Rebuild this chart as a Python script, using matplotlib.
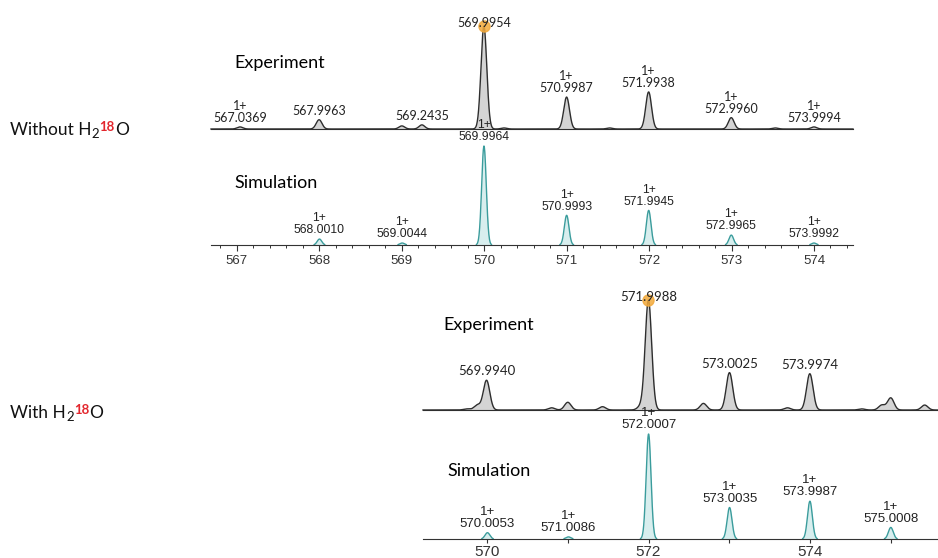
import numpy as np
import matplotlib.pyplot as plt
from matplotlib.ticker import MultipleLocator, FuncFormatter

W, H = 938, 558

# ---- data (m/z, relative intensity) ----
exp1_mz = [567.0369, 567.9963, 569.00, 569.2435, 569.9954, 570.24, 570.9987,
           571.52, 571.9938, 572.9960, 573.53, 573.9994]
exp1_int = [0.02, 0.09, 0.03, 0.04, 1.0, 0.01, 0.31, 0.01, 0.36, 0.11, 0.01, 0.02]
exp1_labels = ["567.0369", "567.9963", "569.2435", "569.9954", "570.9987",
               "571.9938", "572.9960", "573.9994"]
exp1_charge = [True, False, False, False, True, True, True, True]

sim1_mz = [568.0010, 569.0044, 569.9964, 570.9993, 571.9945, 572.9965, 573.9992]
sim1_int = [0.06, 0.02, 1.0, 0.30, 0.35, 0.10, 0.02]
sim1_labels = ["568.0010", "569.0044", "569.9964", "570.9993", "571.9945",
               "572.9965", "573.9992"]

exp2_mz = [569.75, 569.88, 569.9940, 570.80, 571.00, 571.43, 571.90, 571.9988,
           572.68, 573.0025, 573.72, 573.9974, 574.64, 574.89, 575.00, 575.42]
exp2_int = [0.01, 0.045, 0.27, 0.02, 0.07, 0.03, 0.03, 1.0,
            0.06, 0.34, 0.02, 0.33, 0.01, 0.045, 0.11, 0.045]
exp2_labels = ["569.9940", "571.9988", "573.0025", "573.9974"]

sim2_mz = [570.0053, 571.0086, 572.0007, 573.0035, 573.9987, 575.0008]
sim2_int = [0.06, 0.02, 1.0, 0.30, 0.36, 0.11]
sim2_labels = ["570.0053", "571.0086", "572.0007", "573.0035", "573.9987", "575.0008"]

EXP_LINE, EXP_FILL = "#2e2e2e", "#d4d4d4"
SIM_LINE, SIM_FILL = "#3a9c9c", "#d8eeee"
LABEL_FONT = ["Lato", "DejaVu Sans"]
ARIAL = ["Liberation Sans", "DejaVu Sans"]

fig = plt.figure(figsize=(W / 100, H / 100), dpi=100)


def px_axes(x0, x1, base_y, height_px, xlim):
    ax = fig.add_axes([x0 / W, 1 - base_y / H, (x1 - x0) / W, height_px / H])
    ax.set_xlim(*xlim)
    ax.set_ylim(0, 1)
    for s in ["top", "left", "right"]:
        ax.spines[s].set_visible(False)
    ax.set_yticks([])
    ax.patch.set_alpha(0)
    return ax


def profile(ax, mz, inten, sigma, lc, fc, full_line=True):
    x = np.linspace(*ax.get_xlim(), 3000)
    y = np.zeros_like(x)
    for c, h in zip(mz, inten):
        y += h * np.exp(-0.5 * ((x - c) / sigma) ** 2)
    ax.fill_between(x, 0, y, color=fc, lw=0)
    yl = y if full_line else np.ma.masked_less(y, 0.004)
    ax.plot(x, yl, color=lc, lw=1.0, clip_on=False)
    return x, y


def label(ax, x, y, txt, fam, fs, charge=True, dy=2):
    s = ("1+\n" + txt) if charge else txt
    peak = np.interp(float(txt), x, y)
    ax.annotate(s, xy=(float(txt), peak), xytext=(0, dy), textcoords="offset points",
                ha="center", va="bottom", fontsize=fs, family=fam,
                linespacing=1.0, color="#222222", annotation_clip=False)


# ---- top: without H2 18O ----
xl1 = (566.685, 574.473)
ax1 = px_axes(211, 853, 129, 103, xl1)
ax1.set_xticks([])
ax1.spines["bottom"].set_color(EXP_LINE)
x, y = profile(ax1, exp1_mz, exp1_int, 0.035, EXP_LINE, EXP_FILL)
for t, ch in zip(exp1_labels, exp1_charge):
    label(ax1, x, y, t, LABEL_FONT, 9, ch, dy=-2 if t == "569.9954" else 2)
ax1.plot([569.9954], [1.0], "o", ms=8, color="#f2a93b", alpha=0.85, clip_on=False)
ax1.text(0.037, 0.64, "Experiment", transform=ax1.transAxes, fontsize=13,
         family=LABEL_FONT, va="center")

ax2 = px_axes(211, 853, 245, 99, xl1)
x, y = profile(ax2, sim1_mz, sim1_int, 0.028, SIM_LINE, SIM_FILL, full_line=False)
for t in sim1_labels:
    label(ax2, x, y, t, ARIAL, 8.7)
ax2.text(0.037, 0.63, "Simulation", transform=ax2.transAxes, fontsize=13,
         family=LABEL_FONT, va="center")
ax2.xaxis.set_major_locator(MultipleLocator(1))
ax2.xaxis.set_minor_locator(MultipleLocator(0.2))
ax2.tick_params(axis="x", which="major", length=4, width=0.8, colors="#333333",
                labelsize=9.5, pad=3)
ax2.tick_params(axis="x", which="minor", length=2.5, width=0.7, colors="#333333")
ax2.spines["bottom"].set_color("#333333")
for lb in ax2.get_xticklabels():
    lb.set_family(ARIAL)

# ---- bottom: with H2 18O ----
xl2 = (569.207, 575.585)
ax3 = px_axes(423, 938, 410, 110, xl2)
ax3.set_xticks([])
ax3.spines["bottom"].set_color(EXP_LINE)
x, y = profile(ax3, exp2_mz, exp2_int, 0.04, EXP_LINE, EXP_FILL)
for t in exp2_labels:
    label(ax3, x, y, t, LABEL_FONT, 9.5, False, dy=-2 if t == "571.9988" else 2)
ax3.plot([571.9988], [1.0], "o", ms=8, color="#f2a93b", alpha=0.85, clip_on=False)
ax3.text(0.04, 0.77, "Experiment", transform=ax3.transAxes, fontsize=13,
         family=LABEL_FONT, va="center")

ax4 = px_axes(423, 938, 539, 105, xl2)
x, y = profile(ax4, sim2_mz, sim2_int, 0.03, SIM_LINE, SIM_FILL, full_line=False)
for t in sim2_labels:
    label(ax4, x, y, t, ARIAL, 9.5)
ax4.text(0.048, 0.65, "Simulation", transform=ax4.transAxes, fontsize=13,
         family=LABEL_FONT, va="center")
ax4.xaxis.set_major_locator(MultipleLocator(1))
ax4.xaxis.set_major_formatter(FuncFormatter(lambda v, p: f"{v:.0f}" if round(v) % 2 == 0 else ""))
ax4.tick_params(axis="x", length=3, width=0.8, colors="#333333", labelsize=11, pad=1.5)
ax4.spines["bottom"].set_color("#333333")
for lb in ax4.get_xticklabels():
    lb.set_family(ARIAL)

# ---- row labels with coloured isotope ----
bg = fig.add_axes([0, 0, 1, 1])
bg.axis("off")


def row_label(y_px, prefix):
    t1 = bg.text(10 / W, 1 - y_px / H, prefix + " H", fontsize=12.5, family=LABEL_FONT,
                 va="baseline", color="#111111")
    t2 = bg.annotate("2", xy=(1, 0), xycoords=t1, xytext=(0.3, 0), textcoords="offset points",
                     va="baseline", fontsize=9.5, family=LABEL_FONT, color="#111111")
    t3 = bg.annotate("18", xy=(1, 1), xycoords=(t2, t1), xytext=(0, 1), textcoords="offset points",
                     va="top", fontsize=9.5, family=LABEL_FONT, color="#e3262d", weight="bold")
    bg.annotate("O", xy=(1, 0), xycoords=(t3, t1), xytext=(0.3, 0), textcoords="offset points",
                va="bottom", fontsize=12.5, family=LABEL_FONT, color="#111111")


row_label(135, "Without")
row_label(418, "With")

fig.savefig("out.png", dpi=100)
